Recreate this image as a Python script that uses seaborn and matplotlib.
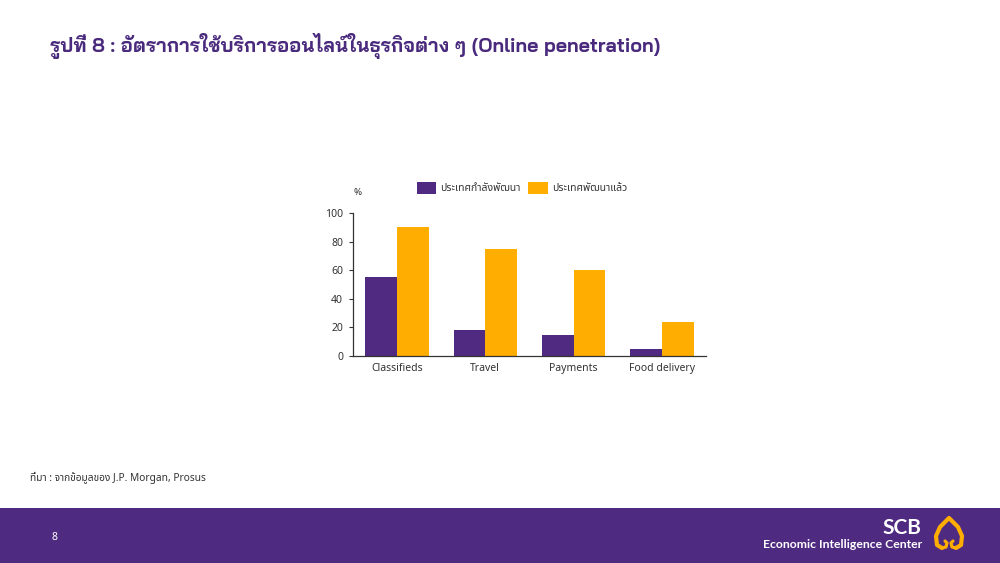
import matplotlib
matplotlib.use("Agg")
import matplotlib.pyplot as plt
from matplotlib.patches import Rectangle, Patch
import pandas as pd
import seaborn as sns

# data
categories = ["Classifieds", "Travel", "Payments", "Food delivery"]
series_names = ["ประเทศกำลังพัฒนา", "ประเทศพัฒนาแล้ว"]
developing = [55, 18, 15, 5]
developed = [90, 75, 60, 24]
y_ticks = [0, 20, 40, 60, 80, 100]

title = "รูปที่ 8 : อัตราการใช้บริการออนไลน์ในธุรกิจต่าง ๆ (Online penetration)"
source = "ที่มา : จากข้อมูลของ J.P. Morgan, Prosus"

purple = "#4F2A80"
orange = "#FFAD00"
band = "#4E2A81"

sns.set_theme(style="white")
plt.rcParams["font.family"] = ["Noto Sans Thai", "DejaVu Sans"]

df = pd.DataFrame({
    "category": categories * 2,
    "value": developing + developed,
    "series": [series_names[0]] * 4 + [series_names[1]] * 4,
})

fig = plt.figure(figsize=(10, 5.63), dpi=100)
ax = fig.add_axes([0.353, 0.3677, 0.353, 0.254])

sns.barplot(data=df, x="category", y="value", hue="series", order=categories,
            hue_order=series_names, palette=[purple, orange], saturation=1,
            width=0.72, gap=0, legend=False, linewidth=0, edgecolor="none", ax=ax)

ax.set_xlim(-0.5, 3.5)
ax.set_ylim(0, 100)
ax.set_yticks(y_ticks)
ax.set_xlabel("")
ax.set_ylabel("")
for s in ["top", "right"]:
    ax.spines[s].set_visible(False)
for s in ["left", "bottom"]:
    ax.spines[s].set_color("#333333")
    ax.spines[s].set_linewidth(0.9)
ax.tick_params(axis="y", left=True, length=3, width=0.8, color="#333333",
               labelsize=7.5, labelcolor="#333333", pad=4)
ax.tick_params(axis="x", bottom=False, labelsize=7.5, labelcolor="#333333", pad=-1)
ax.text(0.0, 1.14, "%", transform=ax.transAxes, fontsize=7, color="#333333",
        ha="left", va="center")

handles = [Patch(facecolor=purple, edgecolor="none"),
           Patch(facecolor=orange, edgecolor="none")]
fig.legend(handles, series_names, loc="center", bbox_to_anchor=(0.522, 0.666),
           ncol=2, frameon=False, fontsize=7.5, handlelength=1.9, handleheight=1.4,
           handletextpad=0.4, columnspacing=0.7, labelcolor="#333333")

fig.text(0.05, 0.918, title, fontsize=14, fontweight="bold", color="#4A2A7D",
         family=["Bai Jamjuree", "DejaVu Sans"], ha="left", va="center")
fig.text(0.03, 0.151, source, fontsize=7.3, color="#333333", ha="left", va="center")

# footer band
over = fig.add_axes([0, 0, 1, 1], zorder=-1)
over.set_xlim(0, 1000)
over.set_ylim(563, 0)
over.axis("off")
over.add_patch(Rectangle((0, 508), 1000, 55, facecolor=band, edgecolor="none"))
over.text(54, 537, "8", color="white", fontsize=7.5, ha="center", va="center",
          fontweight="bold")
over.text(921, 528, "SCB", color="white", fontsize=15, fontweight="bold",
          ha="right", va="center", family=["Lato", "DejaVu Sans"])
over.text(922, 545, "Economic Intelligence Center", color="white", fontsize=8.8,
          fontweight="bold", ha="right", va="center", family=["Lato", "DejaVu Sans"])
# logo outline
lx = [942, 937, 936, 940, 949, 958, 962, 961, 956]
ly = [548, 545, 536, 527, 518, 527, 536, 545, 548]
over.plot(lx, ly, color=orange, lw=3, solid_capstyle="round", solid_joinstyle="round")
over.plot([942, 946, 947, 945], [548, 547, 543, 541], color=orange, lw=2.3,
          solid_capstyle="round")
over.plot([956, 952, 951, 953], [548, 547, 543, 541], color=orange, lw=2.3,
          solid_capstyle="round")

fig.savefig("out.png", dpi=100)
